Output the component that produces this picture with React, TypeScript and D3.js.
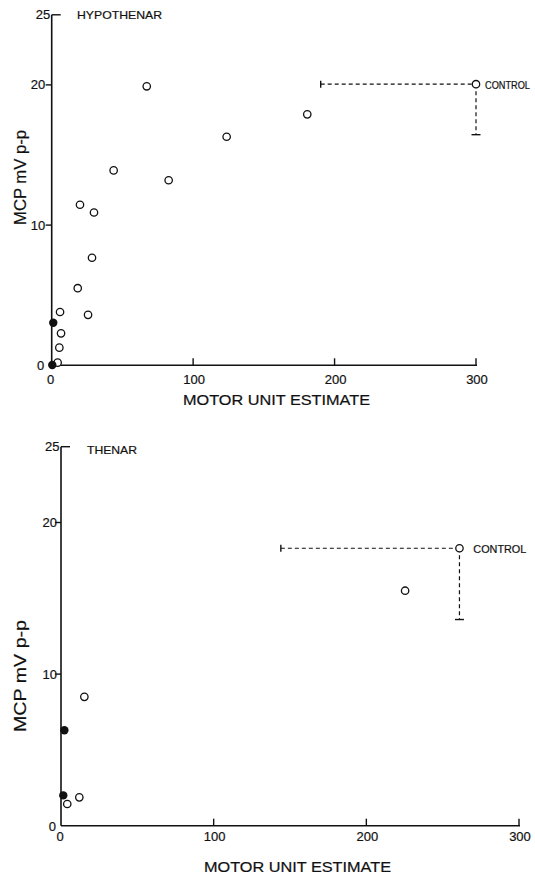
import React from "react";
import * as d3 from "d3";

// ---------- data ----------
const xTicks = [0, 100, 200, 300];
const yTicks = [0, 10, 20, 25];

// Hypothenar panel: [motor unit estimate, MCP mV p-p]
const hypoOpen: [number, number][] = [
  [67.2, 19.9], [123.7, 16.3], [180.7, 17.9], [43.8, 13.9], [82.7, 13.2],
  [20.0, 11.45], [29.9, 10.9], [28.5, 7.67], [18.4, 5.5], [25.7, 3.6],
  [5.9, 3.8], [6.6, 2.28], [5.4, 1.26], [4.2, 0.19],
];
const hypoFilled: [number, number][] = [[1.1, 3.04], [0.4, 0.02]];
const hypoControl = { x: 300, y: 20.05, xLow: 190.2, yLow: 16.45 };

// Thenar panel
const thenarOpen: [number, number][] = [
  [15.3, 8.5], [225.4, 15.5], [12.0, 1.87], [4.1, 1.43],
];
const thenarFilled: [number, number][] = [[2.2, 6.3], [1.5, 2.0]];
const thenarControl = { x: 261, y: 18.3, xLow: 144, yLow: 13.6 };

const FONT = "'Liberation Sans', Arial, Helvetica, sans-serif";
const INK = "#111";
const TXT = { stroke: INK, strokeWidth: 0.2 };

type PanelProps = {
  title: string;
  titleX: number;
  titleY: number;
  titleLen: number;
  xRange: [number, number];
  yRange: [number, number];
  open: [number, number][];
  filled: [number, number][];
  control: { x: number; y: number; xLow: number; yLow: number };
  controlTextX: number;
  controlTextY: number;
  controlLen: number;
  controlFont: number;
  xLabelDy: number;
  xTitleY: number;
  xTitleX: number;
  yTitleX: number;
  yTitleY: number;
  yTitleLen: number;
  yLabelOffset: number;
  y0LabelX: number;
  x0LabelDx: number;
};

function Panel(p: PanelProps) {
  const x = d3.scaleLinear().domain([0, 300]).range(p.xRange);
  const y = d3.scaleLinear().domain([0, 25]).range(p.yRange);
  const ax = x(0);
  const ay = y(0);
  const c = p.control;
  return (
    <g fontFamily={FONT} fill={INK}>
      {/* axes */}
      <line x1={ax} y1={ay} x2={ax} y2={y(25)} stroke={INK} strokeWidth={1.6} />
      <line x1={ax} y1={ay} x2={x(300) + 1} y2={ay} stroke={INK} strokeWidth={1.6} />
      {/* y ticks */}
      {yTicks.map((t) => {
        if (t === 0) {
          return (
            <text key={t} x={p.y0LabelX} y={ay + 5} fontSize={13} textAnchor="middle" {...TXT}>
              0
            </text>
          );
        }
        const top = t === 25;
        return (
          <g key={t}>
            <line
              x1={ax}
              x2={top ? ax + 9 : ax - 6}
              y1={y(t)}
              y2={y(t)}
              stroke={INK}
              strokeWidth={1.4}
            />
            <text
              x={top ? ax - 1.5 : ax - p.yLabelOffset}
              y={y(t) + 4.5}
              fontSize={13}
              textAnchor="end"
              {...TXT}
            >
              {t}
            </text>
          </g>
        );
      })}
      {/* x ticks */}
      {xTicks.map((t) => (
        <g key={t}>
          {t !== 0 && (
            <line x1={x(t)} x2={x(t)} y1={ay} y2={ay - 7} stroke={INK} strokeWidth={1.4} />
          )}
          <text
            x={x(t) + (t === 0 ? p.x0LabelDx : 1)}
            y={ay + p.xLabelDy}
            fontSize={13}
            textAnchor="middle"
            {...TXT}
          >
            {t}
          </text>
        </g>
      ))}
      {/* titles */}
      <text x={p.titleX} y={p.titleY} fontSize={11.5} textLength={p.titleLen} lengthAdjust="spacingAndGlyphs" {...TXT}>
        {p.title}
      </text>
      <text
        x={p.xTitleX}
        y={p.xTitleY}
        fontSize={14}
        textLength={187}
        lengthAdjust="spacingAndGlyphs"
        {...TXT}
      >
        MOTOR UNIT ESTIMATE
      </text>
      <text
        transform={`translate(${p.yTitleX},${p.yTitleY}) rotate(-90)`}
        fontSize={16}
        textAnchor="middle"
        textLength={p.yTitleLen}
        lengthAdjust="spacingAndGlyphs"
        {...TXT}
      >
        MCP mV p-p
      </text>
      {/* control error bars */}
      <line
        x1={x(c.xLow)}
        x2={x(c.x)}
        y1={y(c.y)}
        y2={y(c.y)}
        stroke={INK}
        strokeWidth={1.2}
        strokeDasharray="4,3"
      />
      <line x1={x(c.xLow)} x2={x(c.xLow)} y1={y(c.y) - 3.5} y2={y(c.y) + 3.5} stroke={INK} strokeWidth={1.4} />
      <line
        x1={x(c.x)}
        x2={x(c.x)}
        y1={y(c.y)}
        y2={y(c.yLow)}
        stroke={INK}
        strokeWidth={1.2}
        strokeDasharray="4,3"
      />
      <line x1={x(c.x) - 4.5} x2={x(c.x) + 4.5} y1={y(c.yLow)} y2={y(c.yLow)} stroke={INK} strokeWidth={1.4} />
      <circle cx={x(c.x)} cy={y(c.y)} r={3.7} fill="#fff" stroke={INK} strokeWidth={1.3} />
      <text x={p.controlTextX} y={p.controlTextY} fontSize={p.controlFont} textLength={p.controlLen} lengthAdjust="spacingAndGlyphs" {...TXT}>
        CONTROL
      </text>
      {/* data points */}
      {p.open.map((d, i) => (
        <circle key={"o" + i} cx={x(d[0])} cy={y(d[1])} r={3.7} fill="#fff" stroke={INK} strokeWidth={1.3} />
      ))}
      {p.filled.map((d, i) => (
        <circle key={"f" + i} cx={x(d[0])} cy={y(d[1])} r={4.2} fill={INK} />
      ))}
    </g>
  );
}

export default function App() {
  return (
    <svg
      width={535}
      height={875}
      viewBox="0 0 535 875"
      style={{ position: "absolute", left: 0, top: 0, background: "#fff" }}
    >
      <rect width={535} height={875} fill="#fff" />
      <Panel
        title="HYPOTHENAR"
        titleX={77}
        titleY={18.5}
        titleLen={85}
        xRange={[51.7, 476]}
        yRange={[365.3, 14.8]}
        open={hypoOpen}
        filled={hypoFilled}
        control={hypoControl}
        controlTextX={485}
        controlTextY={88.5}
        controlLen={45}
        controlFont={10}
        xLabelDy={18.5}
        xTitleY={405}
        xTitleX={183}
        yTitleX={26}
        yTitleY={177.5}
        yTitleLen={95}
        yLabelOffset={6.5}
        y0LabelX={40.7}
        x0LabelDx={-1}
      />
      <Panel
        title="THENAR"
        titleX={87}
        titleY={453.5}
        titleLen={50}
        xRange={[61, 519]}
        yRange={[825.7, 446.7]}
        open={thenarOpen}
        filled={thenarFilled}
        control={thenarControl}
        controlTextX={473.3}
        controlTextY={553}
        controlLen={53}
        controlFont={11}
        xLabelDy={15}
        xTitleY={872}
        xTitleX={204}
        yTitleX={26}
        yTitleY={676}
        yTitleLen={112}
        yLabelOffset={4}
        y0LabelX={52.3}
        x0LabelDx={-1}
      />
    </svg>
  );
}
